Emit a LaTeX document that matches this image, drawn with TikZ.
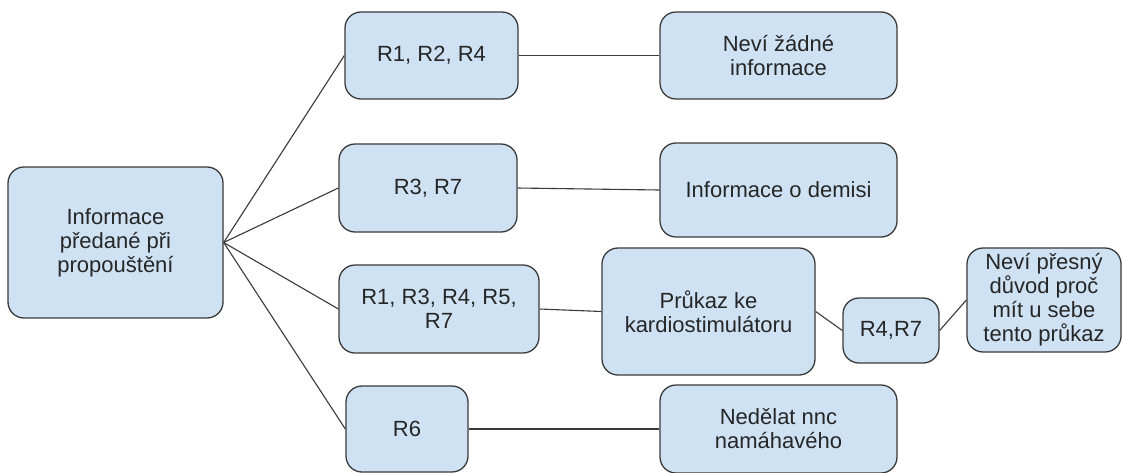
\documentclass[tikz,border=0pt]{standalone}
\usepackage{fontspec}
\setmainfont{Liberation Sans}
\definecolor{boxfill}{HTML}{CFE2F3}
\definecolor{boxline}{HTML}{3A3A3A}
\definecolor{linecol}{HTML}{3A3A3A}
\definecolor{textcol}{HTML}{262626}
\tikzset{
  box/.style={draw=boxline, fill=boxfill, rounded corners=16pt, line width=1.3pt,
    text=textcol, font=\fontsize{22}{24}\selectfont, align=center, inner sep=0pt},
  link/.style={draw=linecol, line width=1.1pt},
}
\begin{document}
\begin{tikzpicture}[x=1pt,y=-1pt]
  \useasboundingbox (0,0) rectangle (1124,472);
  \fill[white] (0,0) rectangle (1124,472);
  \clip (0,0) rectangle (1124,472);

  % root
  \node[box, minimum width=215pt, minimum height=151pt] (root) at (115.5,242.5)
    {Informace\\předané při\\propouštění};

  % first branch
  \node[box, minimum width=173pt, minimum height=87pt] (a1) at (431.5,55.5) {R1, R2, R4};
  \node[box, minimum width=237pt, minimum height=87pt] (b1) at (778.5,55.5) {Neví žádné\\informace};

  % second branch
  \node[box, minimum width=178pt, minimum height=88pt] (a2) at (428,188) {R3, R7};
  \node[box, minimum width=237pt, minimum height=94pt] (b2) at (778.5,190) {Informace o demisi};

  % third branch
  \node[box, minimum width=200pt, minimum height=88pt] (a3) at (439,309) {R1, R3, R4, R5,\\R7};
  \node[box, minimum width=213pt, minimum height=127pt] (b3) at (708.5,311.5) {Průkaz ke\\kardiostimulátoru};
  \node[box, minimum width=96pt, minimum height=65pt] (c3) at (891,330.5) {R4,R7};
  \node[box, minimum width=154pt, minimum height=104pt] (d3) at (1044,300)
    {Neví přesný\\důvod proč\\mít u sebe\\tento průkaz};

  % fourth branch
  \node[box, minimum width=122pt, minimum height=86pt] (a4) at (407,429) {R6};
  \node[box, minimum width=237pt, minimum height=88pt] (b4) at (778.5,429) {Nedělat nnc\\namáhavého};

  % connectors
  \draw[link] (root.east) -- (a1.west);
  \draw[link] (root.east) -- (a2.west);
  \draw[link] (root.east) -- (a3.west);
  \draw[link] (root.east) -- (a4.west);
  \draw[link] (a1.east) -- (b1.west);
  \draw[link] (a2.east) -- (b2.west);
  \draw[link] (a3.east) -- (b3.west);
  \draw[link] (b3.east) -- (c3.west);
  \draw[link] (c3.east) -- (d3.west);
  \draw[link] (a4.east) -- (b4.west);
\end{tikzpicture}
\end{document}
